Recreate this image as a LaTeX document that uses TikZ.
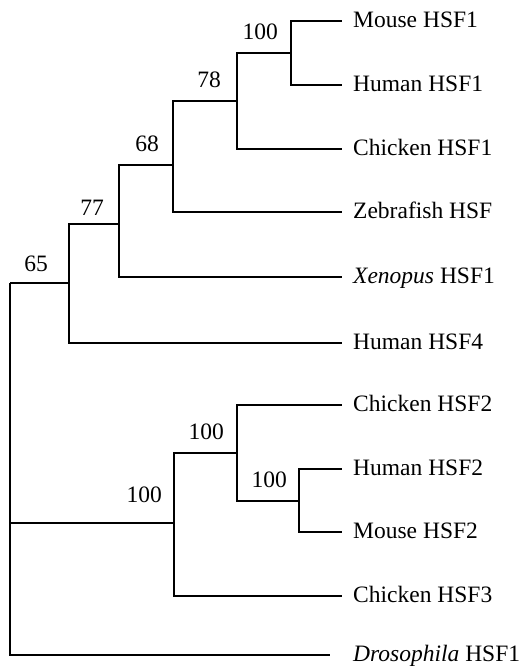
\documentclass[tikz,border=0pt]{standalone}
\usepackage{fontspec}
\setmainfont{Liberation Serif}
\begin{document}
\begin{tikzpicture}[x=1pt,y=-1pt,
    branch/.style={line width=1.8pt,line join=miter},
    leaf/.style={anchor=base west,inner sep=0pt,font=\fontsize{23.5}{28}\selectfont},
    boot/.style={anchor=base east,inner sep=0pt,font=\fontsize{23.5}{28}\selectfont}]
  \useasboundingbox (0,0) rectangle (524,672);

  % leaf tips
  \coordinate (t-mh1) at (342,21);
  \coordinate (t-hh1) at (342,85);
  \coordinate (t-ch1) at (342,149);
  \coordinate (t-zf)  at (342,212);
  \coordinate (t-xl)  at (342,277);
  \coordinate (t-hh4) at (342,343);
  \coordinate (t-ch2) at (342,405);
  \coordinate (t-hh2) at (342,469);
  \coordinate (t-mh2) at (342,532);
  \coordinate (t-ch3) at (342,596);
  \coordinate (t-dm)  at (330,655);

  % internal nodes
  \coordinate (n1) at (291,53);
  \coordinate (n2) at (237,101);
  \coordinate (n3) at (173,165);
  \coordinate (n4) at (119,224);
  \coordinate (n5) at (69,283);
  \coordinate (m1) at (299,501);
  \coordinate (m2) at (237,453);
  \coordinate (m3) at (174,523);
  \coordinate (root) at (10,283);

  % branches
  \draw[branch] (n1) |- (t-mh1);
  \draw[branch] (n1) |- (t-hh1);
  \draw[branch] (n2) |- (n1);
  \draw[branch] (n2) |- (t-ch1);
  \draw[branch] (n3) |- (n2);
  \draw[branch] (n3) |- (t-zf);
  \draw[branch] (n4) |- (n3);
  \draw[branch] (n4) |- (t-xl);
  \draw[branch] (n5) |- (n4);
  \draw[branch] (n5) |- (t-hh4);
  \draw[branch] (m1) |- (t-hh2);
  \draw[branch] (m1) |- (t-mh2);
  \draw[branch] (m2) |- (t-ch2);
  \draw[branch] (m2) |- (m1);
  \draw[branch] (m3) |- (m2);
  \draw[branch] (m3) |- (t-ch3);
  \draw[branch] (root) -- (n5);
  \draw[branch] (root) |- (m3);
  \draw[branch] (root) |- (t-dm);

  % taxon labels
  \node[leaf] (l-mh1) at (353,27) {Mouse HSF1};
  \node[leaf] (l-hh1) at (353,91) {Human HSF1};
  \node[leaf] (l-ch1) at (353,155) {Chicken HSF1};
  \node[leaf] (l-zf)  at (353,218) {Zebrafish HSF};
  \node[leaf] (l-xl)  at (353,283) {\textit{Xenopus} HSF1};
  \node[leaf] (l-hh4) at (353,349) {Human HSF4};
  \node[leaf] (l-ch2) at (353,411) {Chicken HSF2};
  \node[leaf] (l-hh2) at (353,475) {Human HSF2};
  \node[leaf] (l-mh2) at (353,538) {Mouse HSF2};
  \node[leaf] (l-ch3) at (353,602) {Chicken HSF3};
  \node[leaf] (l-dm)  at (353,661) {\textit{Drosophila} HSF1};

  % bootstrap values
  \node[boot] (b-n1) at (278,39)  {100};
  \node[boot] (b-n2) at (221,87)  {78};
  \node[boot] (b-n3) at (159,151) {68};
  \node[boot] (b-n4) at (104,215) {77};
  \node[boot] (b-n5) at (48,271)  {65};
  \node[boot] (b-m2) at (224,439) {100};
  \node[boot] (b-m1) at (287,487) {100};
  \node[boot] (b-m3) at (162,502) {100};
\end{tikzpicture}
\end{document}
